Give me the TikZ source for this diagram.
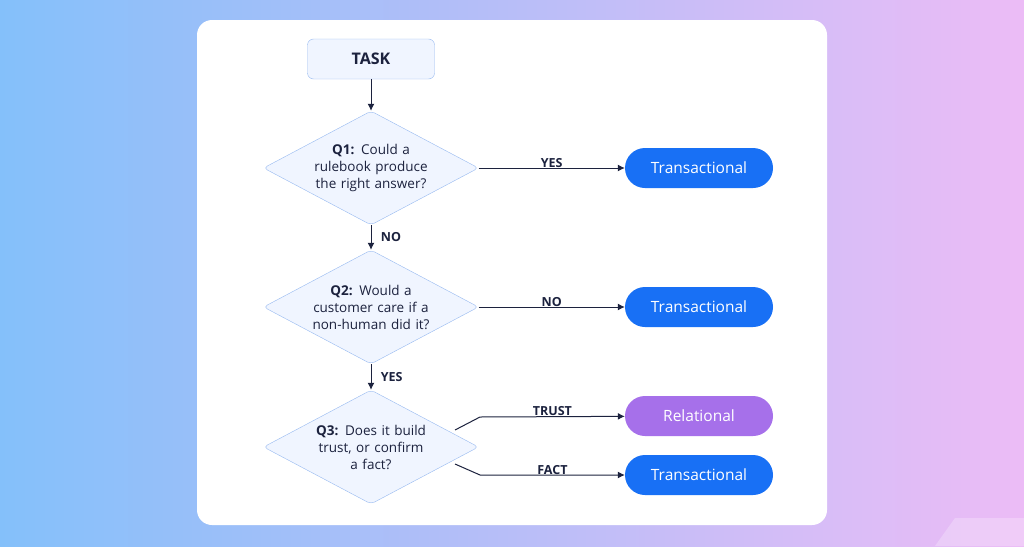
\documentclass[tikz,border=0pt]{standalone}
\usepackage{fontspec}
\setmainfont{Open Sans}
\usetikzlibrary{shapes.geometric}
\usetikzlibrary{positioning}
\usetikzlibrary{arrows.meta}
\definecolor{bgleft}{RGB}{132,192,250}
\definecolor{bgright}{RGB}{236,188,246}
\definecolor{ink}{RGB}{28,34,62}
\definecolor{mblue}{RGB}{24,112,245}
\definecolor{mpurple}{RGB}{166,112,234}
\definecolor{paleblue}{RGB}{240,245,255}
\definecolor{edgeblue}{RGB}{150,185,240}
\tikzset{
  task/.style = {draw=edgeblue, fill=paleblue, rounded corners=6, minimum width=127, minimum height=40, font=\fontsize{16}{18}\selectfont\bfseries, text=ink},
  question/.style = {diamond, aspect=1.9, draw=edgeblue, fill=paleblue, rounded corners=4, inner sep=0, minimum width=215, minimum height=114, text width=122, align=center, font=\fontsize{13.5}{17}\selectfont, text=ink},
  result/.style = {rounded corners=20, minimum width=148, minimum height=40, text=white, font=\fontsize{15.5}{17}\selectfont},
  flow/.style = {draw=ink, line width=1, -{Latex[length=7,width=7]}},
  tag/.style = {font=\fontsize{12.5}{14}\selectfont\bfseries, text=ink}
}

\begin{document}
\begin{tikzpicture}[x=1pt, y=-1pt]
    \shade [left color=bgleft, right color=bgright] (0, 0) rectangle (1024, 546);
    \fill [white, opacity=0.25] (955, 518) -- (1024, 518) -- (1024, 546) -- (935, 546) -- cycle;
    \useasboundingbox (0, 0) rectangle (1024, 546);
    \fill [white, rounded corners=15] (197, 20) rectangle (827, 525);

    \node [task] (task) at (371, 59) {TASK};
    \node [question] (q1) at (371, 168) {\textbf{Q1:} Could a\\rulebook produce\\the right answer?};
    \node [question] (q2) at (371, 307) {\textbf{Q2:} Would a\\customer care if a\\non-human did it?};
    \node [question] (q3) at (371, 447) {\textbf{Q3:} Does it build\\trust, or confirm\\a fact?};

    \node [result, fill=mblue] (t1) at (699, 168) {Transactional};
    \node [result, fill=mblue] (t2) at (699, 307) {Transactional};
    \node [result, fill=mpurple] (rel) at (699, 416) {Relational};
    \node [result, fill=mblue] (t3) at (699, 475) {Transactional};

    \draw [flow] (task) -- (q1);
    \draw [flow] (q1) -- node [tag, right=6] {NO} (q2);
    \draw [flow] (q2) -- node [tag, right=6] {YES} (q3);
    \draw [flow] (q1.east) -- node [tag, above=3] {YES} (t1);
    \draw [flow] (q2.east) -- node [tag, above=3] {NO} (t2);
    \draw [flow] (455, 430) -- (480, 417) -- node [tag, above=3] {TRUST} (rel);
    \draw [flow] (455, 464) -- (480, 475) -- node [tag, above=3] {FACT} (t3);
\end{tikzpicture}
\end{document}
